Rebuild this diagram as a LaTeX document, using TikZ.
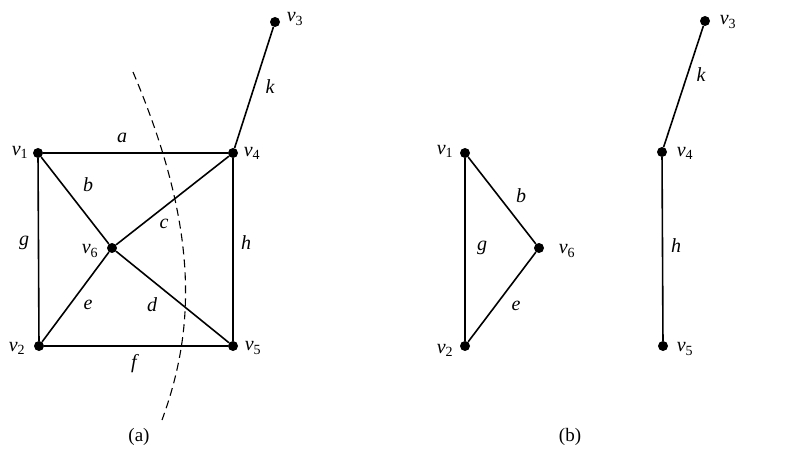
\documentclass[tikz,border=0pt]{standalone}
\usepackage{fontspec}
\setmainfont{Liberation Serif}
\begin{document}
\begin{tikzpicture}[x=1pt,y=-1pt,
  vtx/.style={circle,fill=black,inner sep=0pt,minimum size=10pt},
  edge/.style={line width=1.6pt},
  lbl/.style={font=\fontsize{20}{22}\selectfont\itshape,inner sep=0pt},
  captext/.style={font=\fontsize{19}{21}\selectfont,inner sep=0pt}]
\useasboundingbox (0,0) rectangle (800,462);
% (a)
\node[vtx] (a1) at (38,153) {};
\node[vtx] (a4) at (233,153) {};
\node[vtx] (a3) at (275,22) {};
\node[vtx] (a2) at (39,346) {};
\node[vtx] (a5) at (233,346) {};
\node[vtx] (a6) at (112,248) {};
\draw[edge] (a1) -- (a4) (a1) -- (a2) (a2) -- (a5) (a4) -- (a5) (a4) -- (a3)
  (a1) -- (a6) (a6) -- (a5) (a2) -- (a6) (a6) -- (a4);
\coordinate (cs) at (133,72);
\coordinate (ce) at (162,420);
\draw[line width=1.1pt,dash pattern=on 8pt off 5pt] (cs) .. controls (200,230) and (195,330) .. (ce);
\node[lbl] (la1) at (20,152) {v\textsubscript{\upshape 1}};
\node[lbl] (la4) at (252,153) {v\textsubscript{\upshape 4}};
\node[lbl] (la3) at (295,19) {v\textsubscript{\upshape 3}};
\node[lbl] (la2) at (17,348) {v\textsubscript{\upshape 2}};
\node[lbl] (la5) at (253,348) {v\textsubscript{\upshape 5}};
\node[lbl] (la6) at (90,251) {v\textsubscript{\upshape 6}};
\node[lbl] (ea) at (122,138) {a};
\node[lbl] (eb) at (88,185) {b};
\node[lbl] (ec) at (164,224) {c};
\node[lbl] (ed) at (152,305) {d};
\node[lbl] (ee) at (88,305) {e};
\node[lbl] (ef) at (134,364) {f};
\node[lbl] (eg) at (24,243) {g};
\node[lbl] (eh) at (246,243) {h};
\node[lbl] (ek) at (270,87) {k};
\node[captext] (capa) at (139,437) {(a)};
% (b)
\node[vtx] (b1) at (465,153) {};
\node[vtx] (b2) at (465,346) {};
\node[vtx] (b6) at (539,248) {};
\node[vtx] (b4) at (662,152) {};
\node[vtx] (b5) at (663,346) {};
\node[vtx] (b3) at (705,21) {};
\draw[edge] (b1) -- (b2) (b1) -- (b6) (b6) -- (b2) (b4) -- (b5) (b4) -- (b3);
\node[lbl] (lb1) at (445,151) {v\textsubscript{\upshape 1}};
\node[lbl] (lb2) at (445,350) {v\textsubscript{\upshape 2}};
\node[lbl] (lb6) at (567,251) {v\textsubscript{\upshape 6}};
\node[lbl] (lb4) at (685,153) {v\textsubscript{\upshape 4}};
\node[lbl] (lb5) at (685,349) {v\textsubscript{\upshape 5}};
\node[lbl] (lb3) at (728,22) {v\textsubscript{\upshape 3}};
\node[lbl] (fb) at (521,196) {b};
\node[lbl] (fg) at (482,248) {g};
\node[lbl] (fe) at (516,306) {e};
\node[lbl] (fh) at (676,246) {h};
\node[lbl] (fk) at (701,75) {k};
\node[captext] (capb) at (570,437) {(b)};
\end{tikzpicture}
\end{document}
